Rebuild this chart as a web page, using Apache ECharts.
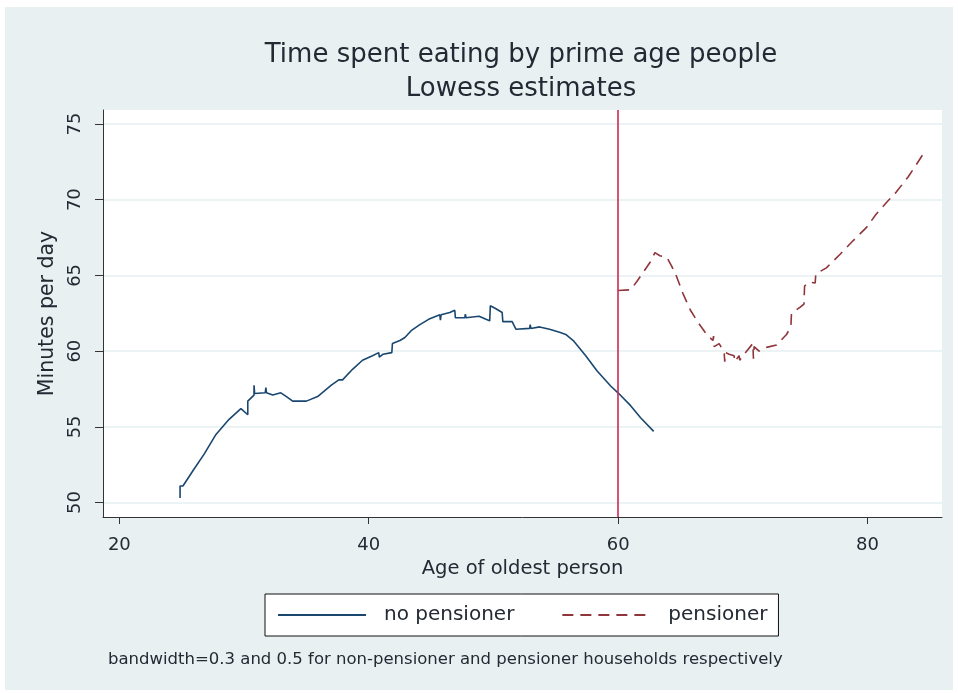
<!DOCTYPE html>
<html>
<head>
<meta charset="utf-8">
<script src="https://cdn.jsdelivr.net/npm/echarts@6/dist/echarts.min.js"></script>
<style>
  html, body { margin: 0; padding: 0; background: #ffffff; }
  #chart { width: 958px; height: 693px; }
</style>
</head>
<body>
<div id="chart"></div>
<script>
// Lowess estimates of minutes per day spent eating, by age of the oldest household member
const noPensionerAge = [24.87, 24.87, 25.1, 25.9, 26.8, 27.75, 28.8, 29.75, 30.3, 30.3, 30.8, 30.8, 30.85, 31.7, 31.75, 31.8, 32.3, 32.95, 33.4, 33.9, 35.0, 35.9, 37.0, 37.6, 37.9, 38.7, 39.5, 40.3, 40.8, 40.85, 41.15, 41.85, 41.9, 42.5, 42.9, 43.4, 44.1, 44.8, 45.7, 45.75, 45.8, 46.5, 46.9, 46.95, 47.7, 47.75, 47.8, 48.3, 48.85, 49.4, 49.7, 49.75, 50.2, 50.7, 50.75, 51.5, 51.8, 52.9, 52.95, 53.0, 53.7, 54.5, 55.3, 55.8, 56.4, 57.4, 58.3, 59.4, 60.05, 61.0, 61.8, 62.85];
const noPensionerMin = [50.3, 51.1, 51.1, 52.1, 53.2, 54.5, 55.5, 56.2, 55.8, 56.7, 57.1, 57.75, 57.2, 57.25, 57.6, 57.25, 57.1, 57.25, 57.0, 56.7, 56.7, 57.0, 57.75, 58.1, 58.1, 58.8, 59.4, 59.7, 59.9, 59.6, 59.8, 59.9, 60.5, 60.7, 60.9, 61.35, 61.75, 62.1, 62.4, 62.05, 62.4, 62.55, 62.7, 62.2, 62.2, 62.45, 62.2, 62.25, 62.3, 62.1, 62.0, 63.0, 62.8, 62.55, 61.95, 61.95, 61.45, 61.5, 61.75, 61.5, 61.6, 61.45, 61.25, 61.1, 60.7, 59.7, 58.7, 57.7, 57.2, 56.4, 55.6, 54.7];

const pensionerAge = [60.0, 61.0, 61.5, 62.0, 62.55, 62.95, 63.35, 63.9, 64.3, 64.7, 65.2, 65.8, 66.4, 67.1, 67.6, 67.65, 67.7, 68.1, 68.5, 68.55, 68.6, 68.9, 69.3, 69.35, 69.7, 69.75, 70.3, 70.8, 70.85, 70.9, 71.3, 71.9, 72.7, 73.5, 73.85, 73.9, 74.6, 74.9, 74.95, 75.3, 75.8, 75.85, 76.7, 77.8, 78.85, 79.9, 80.7, 81.5, 82.3, 83.25, 83.9, 84.45];
const pensionerMin = [64.0, 64.05, 64.6, 65.2, 65.85, 66.5, 66.3, 66.2, 65.6, 64.9, 63.8, 62.7, 61.9, 61.1, 60.7, 61.0, 60.3, 60.5, 59.9, 59.3, 59.9, 59.8, 59.7, 59.3, 59.7, 59.4, 60.0, 60.5, 59.5, 60.3, 60.0, 60.25, 60.4, 61.1, 61.6, 62.5, 62.9, 63.1, 64.3, 64.55, 64.5, 65.1, 65.5, 66.4, 67.3, 68.15, 69.05, 69.8, 70.5, 71.5, 72.3, 73.0];

const xTicks = [20, 40, 60, 80];
const yTicks = [50, 55, 60, 65, 70, 75];
const pensionAge = 60;

const titleLines = ['Time spent eating by prime age people', 'Lowess estimates'];
const xTitle = 'Age of oldest person';
const yTitle = 'Minutes per day';
const seriesNames = ['no pensioner', 'pensioner'];
const footnote = 'bandwidth=0.3 and 0.5 for non-pensioner and pensioner households respectively';

const FONT = '"DejaVu Sans", Verdana, sans-serif';
const TEXT = '#222a33';

const zip = (a, b) => a.map((v, i) => [v, b[i]]);

const chart = echarts.init(document.getElementById('chart'), null, { renderer: 'canvas' });

chart.setOption({
  backgroundColor: '#ffffff',
  animation: false,
  textStyle: { fontFamily: FONT },
  graphic: [
    {
      type: 'rect', z: -10, silent: true,
      shape: { x: 5, y: 7, width: 948, height: 683 },
      style: { fill: '#e9f0f2' }
    },
    {
      type: 'text', x: 521, y: 38, silent: true,
      style: {
        text: titleLines.join('\n'),
        font: '26px ' + FONT, fill: TEXT,
        align: 'center', verticalAlign: 'top', lineHeight: 34
      }
    },
    {
      type: 'text', x: 108, y: 651, silent: true,
      style: { text: footnote, font: '16.5px ' + FONT, fill: TEXT, verticalAlign: 'top' }
    }
  ],
  grid: {
    left: 103, right: 16, top: 110, bottom: 176,
    show: true, backgroundColor: '#ffffff', borderWidth: 0
  },
  legend: {
    left: 265, top: 594,
    padding: [11, 11, 11, 12],
    itemGap: 47,
    itemWidth: 88, itemHeight: 14,
    backgroundColor: '#ffffff', borderColor: '#111111', borderWidth: 1, borderRadius: 0,
    // legend keys show only the line sample
    itemStyle: { color: 'transparent', borderColor: 'transparent', borderWidth: 0 },
    lineStyle: { width: 2 },
    textStyle: { fontSize: 20, color: TEXT, fontFamily: FONT, padding: [0, 0, 0, 13] },
    data: seriesNames
  },
  xAxis: {
    type: 'value', min: 18.69, max: 85.97,
    name: xTitle, nameLocation: 'middle', nameGap: 39,
    nameTextStyle: { fontSize: 19.5, color: TEXT },
    axisLine: { show: true, onZero: false, lineStyle: { color: '#333333', width: 1 } },
    axisTick: { show: true, length: 7, customValues: xTicks, lineStyle: { color: '#333333' } },
    axisLabel: { customValues: xTicks, fontSize: 18, color: TEXT, margin: 19 },
    splitLine: { show: false }
  },
  yAxis: {
    type: 'value', min: 49.05, max: 75.92,
    name: yTitle, nameLocation: 'middle', nameGap: 41, nameRotate: 90,
    nameTextStyle: { fontSize: 20.5, color: TEXT },
    axisLine: { show: true, onZero: false, lineStyle: { color: '#333333', width: 1 } },
    axisTick: { show: true, length: 8, customValues: yTicks, lineStyle: { color: '#333333' } },
    axisLabel: { customValues: yTicks, fontSize: 18, color: TEXT, rotate: 90, margin: 19 },
    splitLine: { show: true, lineStyle: { color: '#e6eff1', width: 1.5 } }
  },
  series: [
    {
      name: seriesNames[0], type: 'line', data: zip(noPensionerAge, noPensionerMin),
      symbol: 'none', smooth: false, z: 3,
      itemStyle: { color: '#1a476f' },
      lineStyle: { color: '#1a476f', width: 1.6 },
      markLine: {
        silent: true, symbol: 'none', label: { show: false },
        lineStyle: { color: '#cc2a50', width: 1.6, type: 'solid' },
        data: [{ xAxis: pensionAge }]
      }
    },
    {
      name: seriesNames[1], type: 'line', data: zip(pensionerAge, pensionerMin),
      symbol: 'none', smooth: false, z: 3,
      itemStyle: { color: '#90353b' },
      lineStyle: { color: '#90353b', width: 1.6, type: [11, 7] }
    }
  ]
});
</script>
</body>
</html>
